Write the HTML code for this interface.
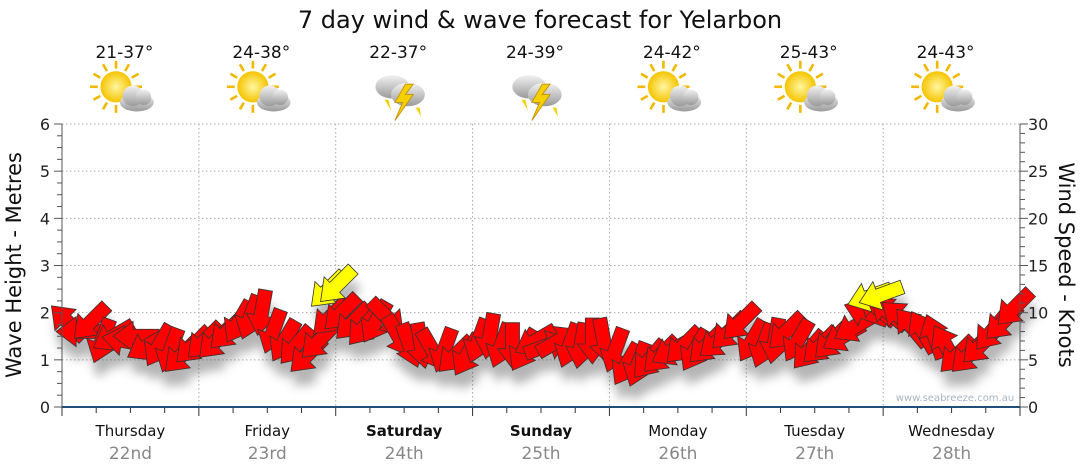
<!DOCTYPE html>
<html><head><meta charset="utf-8"><style>
body{margin:0;background:#fff;}
svg{display:block;font-family:"DejaVu Sans","Liberation Sans",sans-serif;}
</style></head><body>
<svg id="c" width="1080" height="475" viewBox="0 0 1080 475">
<defs>
<filter id="sh" x="-50%" y="-50%" width="200%" height="250%"><feGaussianBlur stdDeviation="5"/></filter>
<radialGradient id="sun" cx="0.5" cy="0.5" r="0.5"><stop offset="0" stop-color="#fff6a0"/><stop offset="1" stop-color="#f5c400"/></radialGradient>
<linearGradient id="cloud" x1="0" y1="0" x2="0" y2="1"><stop offset="0" stop-color="#f2f2f2"/><stop offset="1" stop-color="#9a9a9a"/></linearGradient>
</defs>
<text x="540" y="28" text-anchor="middle" font-size="24" fill="#111">7 day wind &amp; wave forecast for Yelarbon</text>
<g id="grid"></g><g id="shadows" filter="url(#sh)" opacity="0.4"></g><g id="arrows"></g><g id="axes"></g><g id="topg"></g>
<text x="955" y="401" text-anchor="middle" font-size="10" fill="#a8b4c4">www.seabreeze.com.au</text>
</svg>
<script>
const days=["Thursday","Friday","Saturday","Sunday","Monday","Tuesday","Wednesday"];
const dates=["22nd","23rd","24th","25th","26th","27th","28th"];
const temps=["21-37°","24-38°","22-37°","24-39°","24-42°","25-43°","24-43°"];
const icons=["sun","sun","storm","storm","sun","sun","sun"];
const waveTicks=[0,1,2,3,4,5,6];
const windTicks=[0,5,10,15,20,25,30];
const windSpeed=[9,8,9,7,7.5,7,7.5,6.5,6.5,6,5.5,6.5,
7,7,8,9,9.5,10,8,7,6.5,5.5,7,9.5,
10,9,8.5,9,9.5,7.5,6.5,6.5,6,6,5.5,5.5,
7,7.5,6.5,6.5,6,7,6.5,7,6.5,6.5,7,7,
6,4.5,4.5,5,5.5,6,6.5,6,6.5,7,8,9,
7,6.5,7,8,7,6,6.5,7,7.5,8.5,10,10.5,
10,9.5,8.5,8,7.5,6.5,5.5,5.5,6.5,8,9,10.5];
const windDir=[135,90,45,20,60,100,90,60,30,20,45,45,
45,45,45,30,20,10,20,30,40,45,45,45,
45,45,40,30,315,330,340,350,330,20,45,30,
20,10,20,0,30,60,250,240,20,10,0,350,
20,30,20,40,45,60,45,30,45,50,45,45,
30,20,10,45,30,40,45,45,60,60,110,130,
130,130,140,150,160,150,45,45,45,40,45,45];
const gustHour=[22.8,23.6,70.3,71.3];
const gustSpeed=[12.4,12.9,11.7,11.9];
const gustDir=[45,45,70,70];

const NS="http://www.w3.org/2000/svg";
const X0=62,X1=1020,Y0=407,Y1=124,DW=(X1-X0)/7;
const xDay=d=>X0+d*DW;
const xSlot=i=>X0+(i+0.5)*DW/12;
const yWave=v=>Y0-(v/6)*(Y0-Y1);
const yWind=v=>Y0-(v/30)*(Y0-Y1);
function mk(tag,attrs,parent,txt){const e=document.createElementNS(NS,tag);for(const k in attrs)e.setAttribute(k,attrs[k]);if(txt!=null)e.textContent=txt;parent.appendChild(e);return e;}
const grid=document.getElementById('grid'),axes=document.getElementById('axes'),topG=document.getElementById('topg');
waveTicks.forEach(v=>{if(v>0){const l=mk('line',{x1:X0,x2:X1,y1:yWave(v),y2:yWave(v),stroke:'#aaa','stroke-dasharray':'1.5,2.5'},grid);

}
const t=mk('text',{x:50,y:yWave(v)+6,'text-anchor':'end','font-size':16,fill:'#222'},axes,v);

});
windTicks.forEach(v=>{const t=mk('text',{x:1028,y:yWind(v)+6,'font-size':16,fill:'#222'},axes,v);

});
for(let k=0;k<=24;k++){const y=Y0-k*(Y0-Y1)/24;mk('line',{x1:X0-(k%4?5:8),x2:X0,y1:y,y2:y,stroke:'#555'},axes);}
for(let k=0;k<=30;k++){const y=yWind(k);mk('line',{x1:X1,x2:X1+(k%5?5:8),y1:y,y2:y,stroke:'#555'},axes);}
mk('line',{x1:X0,x2:X0,y1:Y1,y2:Y0,stroke:'#555'},axes);
mk('line',{x1:X1,x2:X1,y1:Y1,y2:Y0,stroke:'#555'},axes);
for(let d=0;d<=7;d++){if(d>0&&d<7){const l=mk('line',{x1:xDay(d),x2:xDay(d),y1:Y1,y2:Y0,stroke:'#aaa','stroke-dasharray':'1.5,2.5'},grid);

}
for(let q=0;q<4;q++){const x=xDay(d)+q*DW/4;if(x<=X1+1)mk('line',{x1:x,x2:x,y1:Y0,y2:Y0+(q?6:9),stroke:'#333'},axes);}}
const ax=mk('line',{x1:X0,x2:X1,y1:Y0,y2:Y0,stroke:'#1f4e79','stroke-width':2},axes);


const yl=mk('text',{transform:'translate(21,265) rotate(-90)','text-anchor':'middle','font-size':21,fill:'#111'},axes,'Wave Height - Metres');


const yr=mk('text',{transform:'translate(1059,265) rotate(90)','text-anchor':'middle','font-size':21,fill:'#111'},axes,'Wind Speed - Knots');


days.forEach((d,i)=>{const cx=xDay(i)+DW/2;const bold=(d==="Saturday"||d==="Sunday");
const a=mk('text',{x:cx,y:436,'text-anchor':'middle','font-size':15,fill:'#111','font-weight':bold?'bold':'normal'},topG,d);


const b=mk('text',{x:cx,y:459,'text-anchor':'middle','font-size':17,fill:'#888'},topG,dates[i]);


const c=mk('text',{x:cx-6,y:58,'text-anchor':'middle','font-size':17,fill:'#111'},topG,temps[i]);


const g=mk('g',{transform:`translate(${cx-4},92) scale(1.3)`},topG);


if(icons[i]==='sun'){for(let r=0;r<12;r++){const an=r*Math.PI/6;mk('line',{x1:-8+Math.cos(an)*14,y1:-4+Math.sin(an)*14,x2:-8+Math.cos(an)*20,y2:-4+Math.sin(an)*20,stroke:'#f0b800','stroke-width':2},g);}
mk('circle',{cx:-8,cy:-4,r:12,fill:'url(#sun)'},g);
mk('ellipse',{cx:8,cy:8,rx:13,ry:7,fill:'url(#cloud)'},g);mk('circle',{cx:5,cy:3,r:8,fill:'url(#cloud)'},g);mk('circle',{cx:13,cy:4,r:6,fill:'url(#cloud)'},g);}
else{mk('ellipse',{cx:-6,cy:-4,rx:13,ry:9,fill:'url(#cloud)'},g);mk('ellipse',{cx:6,cy:2,rx:13,ry:9,fill:'url(#cloud)'},g);
mk('polygon',{points:'4,-6 -4,8 2,8 -4,22 10,2 4,2 10,-6',fill:'#f5d000',stroke:'#c89000','stroke-width':0.7},g);
mk('polygon',{points:'-12,6 -9,6 -7,14',fill:'#f5d000'},g);mk('polygon',{points:'12,12 15,12 16,19',fill:'#f5d000'},g);}});
const SH="M-23,-7 L3,-7 L3,-15 L23,0 L3,15 L3,7 L-23,7 Z";
const arr=document.getElementById('arrows'),sh=document.getElementById('shadows');
function arrow(x,y,dir,fill,name){mk('path',{d:SH,transform:`translate(${x+3},${y+15}) rotate(${dir+90})`,fill:'#444'},sh);
const p=mk('path',{d:SH,transform:`translate(${x},${y}) rotate(${dir+90})`,fill:fill,stroke:'#333','stroke-width':0.8},arr);

}
windSpeed.forEach((v,i)=>arrow(xSlot(i),yWind(v),windDir[i],'#ff0000','wind-arrow'));
gustHour.forEach((h,i)=>arrow(xSlot(h),yWind(gustSpeed[i]),gustDir[i],'#ffff00','gust-arrow'));
</script>
</body></html>
